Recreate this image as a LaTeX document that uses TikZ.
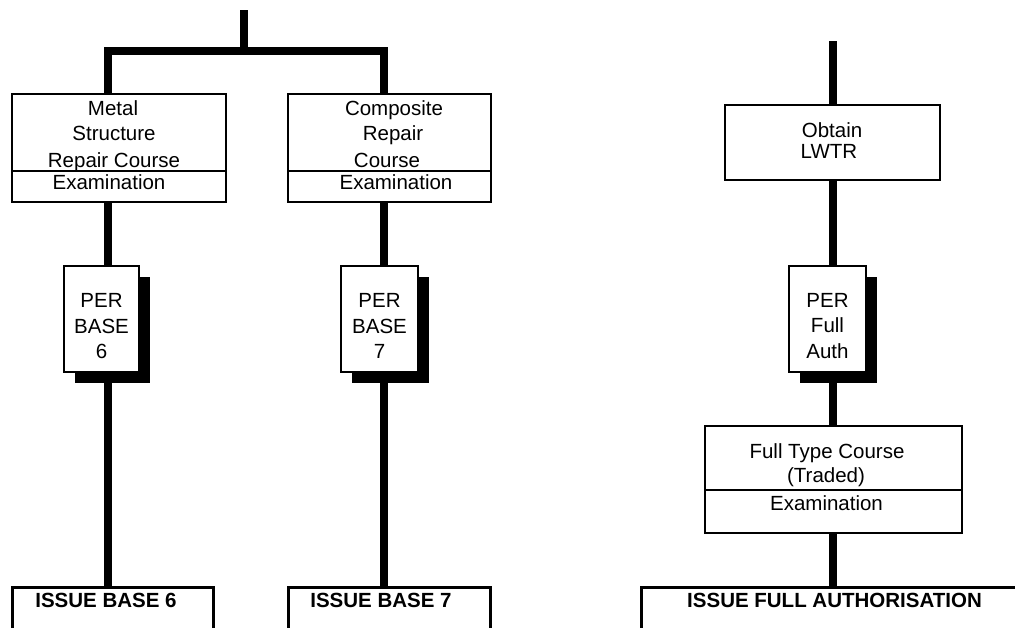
\documentclass[tikz,border=0pt]{standalone}
\usepackage{fontspec}
\setmainfont{Liberation Sans}
\usetikzlibrary{shadows,backgrounds}
\begin{document}
\begin{tikzpicture}[x=1pt,y=-1pt,
  box/.style={draw, line width=1.2pt, fill=white, inner sep=0pt, outer sep=0pt, anchor=north west},
  perbox/.style={box, drop shadow={shadow xshift=11pt, shadow yshift=-11pt, opacity=1, fill=black}},
  issuebox/.style={draw, line width=3pt, fill=white, inner sep=0pt, outer sep=0pt, anchor=north west},
  conn/.style={line width=8pt, line join=miter, line cap=butt},
  divider/.style={line width=1.2pt},
  lbl/.style={anchor=base, inner sep=0pt, font=\fontsize{20.5}{26}\selectfont},
  blbl/.style={anchor=base, inner sep=0pt, font=\fontsize{20.5}{26}\selectfont\bfseries}]
\useasboundingbox (0,0) rectangle (1015,627);
\clip (0,0) rectangle (1015,627);

% column coordinates
\coordinate (c6) at (108,0);
\coordinate (c7) at (384,0);
\coordinate (c8) at (833,0);
\coordinate (top) at (244,10);
\coordinate (jm) at (244,51);
\coordinate (topR) at (833,41);

% boxes
\node[box, minimum width=214pt, minimum height=108pt] (metal) at (12,94) {};
\node[box, minimum width=203pt, minimum height=108pt] (comp) at (288,94) {};
\node[perbox, minimum width=75pt, minimum height=106pt] (per6) at (64,266) {};
\node[perbox, minimum width=77pt, minimum height=106pt] (per7) at (341,266) {};
\node[issuebox, minimum width=201pt, minimum height=60pt] (issue6) at (12,587) {};
\node[issuebox, minimum width=202pt, minimum height=60pt] (issue7) at (288,587) {};
\node[box, minimum width=215pt, minimum height=75pt] (obtain) at (725,105) {};
\node[perbox, minimum width=77pt, minimum height=106pt] (perF) at (789,266) {};
\node[box, minimum width=257pt, minimum height=107pt] (full) at (705,426) {};
\node[issuebox, minimum width=400pt, minimum height=60pt] (issueF) at (641,587) {};

% dividers
\draw[divider] (metal.west |- 0,171) -- (metal.east |- 0,171);
\draw[divider] (comp.west |- 0,171) -- (comp.east |- 0,171);
\draw[divider] (full.west |- 0,490) -- (full.east |- 0,490);

% labels
\node[lbl] (m1) at (113,115) {Metal};
\node[lbl] (m2) at (114,140) {Structure};
\node[lbl] (m3) at (114,167) {Repair Course};
\node[lbl] (m4) at (109,189) {Examination};
\node[lbl] (k1) at (394,115) {Composite};
\node[lbl] (k2) at (393,140) {Repair};
\node[lbl] (k3) at (387,167) {Course};
\node[lbl] (k4) at (396,189) {Examination};
\node[lbl] (p61) at (101.5,307) {PER};
\node[lbl] (p62) at (101.5,333) {BASE};
\node[lbl] (p63) at (101.5,358) {6};
\node[lbl] (p71) at (379.5,307) {PER};
\node[lbl] (p72) at (379.5,333) {BASE};
\node[lbl] (p73) at (379.5,358) {7};
\node[lbl] (o1) at (832,137) {Obtain};
\node[lbl] (o2) at (829,158) {LWTR};
\node[lbl] (pf1) at (827.5,307) {PER};
\node[lbl] (pf2) at (827.5,332) {Full};
\node[lbl] (pf3) at (827.5,358) {Auth};
\node[lbl] (f1) at (827,458) {Full Type Course};
\node[lbl] (f2) at (826,482) {(Traded)};
\node[lbl] (f3) at (826.5,510) {Examination};
\node[blbl] (i6) at (106,607) {ISSUE BASE 6};
\node[blbl] (i7) at (381,607) {ISSUE BASE 7};
\node[blbl] (iF) at (834.5,607) {ISSUE FULL AUTHORISATION};

% connectors
\begin{scope}[on background layer]
\fill[white] (0,0) rectangle (1015,627);
\draw[conn] (top) -- (jm);
\draw[conn] (metal.north -| c6) -- (c6 |- jm) -- (c7 |- jm) -- (comp.north -| c7);
\draw[conn] (metal.south -| c6) -- (per6.north -| c6);
\draw[conn] (per6.south -| c6) -- (issue6.north -| c6);
\draw[conn] (comp.south -| c7) -- (per7.north -| c7);
\draw[conn] (per7.south -| c7) -- (issue7.north -| c7);
\draw[conn] (topR) -- (obtain.north -| c8);
\draw[conn] (obtain.south -| c8) -- (perF.north -| c8);
\draw[conn] (perF.south -| c8) -- (full.north -| c8);
\draw[conn] (full.south -| c8) -- (issueF.north -| c8);
\end{scope}
\end{tikzpicture}
\end{document}
